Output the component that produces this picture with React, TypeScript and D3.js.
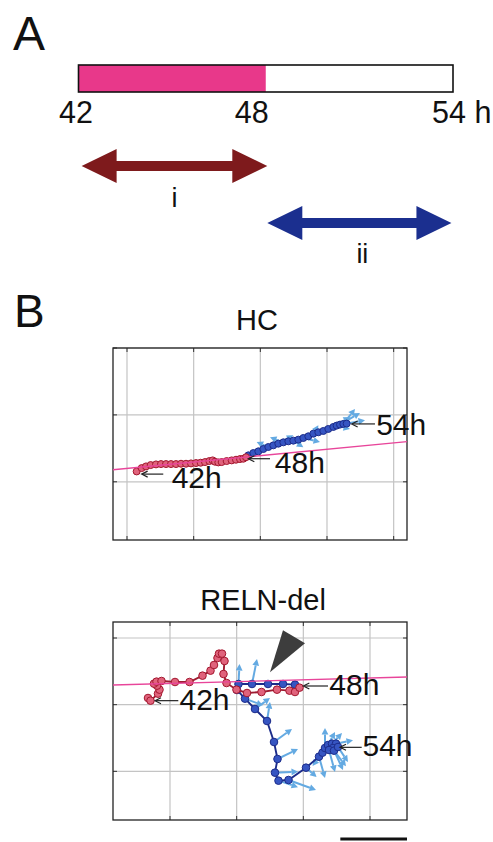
import React from "react";
import * as d3 from "d3";

// ---------- Panel A data ----------
const timeTicks = [42, 48, 54];
const timeTickLabels = ["42", "48", "54 h"];
const timeLabelOffsets = [-19.5, -31, -21];
const highlightEnd = 48;
const phaseI = [42.1, 48.05];
const phaseII = [48.05, 53.95];
const phaseLabels = ["i", "ii"];

// ---------- Panel B: HC ----------
const hcRedX = [2.9, 4.4, 5.7, 7.1, 8.7, 10.2, 11.7, 13.2, 14.7, 16.2, 17.7, 19.2, 20.7, 22.1, 23.4, 24.7, 25.7, 26.4, 27.4, 28.4, 29.9, 31.4, 32.7, 33.9, 34.9, 35.7];
const hcRedY = [3.1, 4.1, 4.6, 5.0, 5.2, 5.3, 5.3, 5.3, 5.3, 5.4, 5.4, 5.5, 5.6, 5.7, 5.9, 6.2, 6.4, 6.0, 5.8, 5.9, 6.2, 6.4, 6.6, 6.8, 6.9, 7.35];
const hcBlueX = [36.4, 37.9, 39.4, 40.9, 42.4, 43.9, 45.4, 46.9, 48.4, 49.9, 51.4, 52.9, 54.4, 55.9, 57.4, 58.9, 60.4, 61.9, 62.9, 63.9, 64.9, 65.9];
const hcBlueY = [7.9, 8.6, 9.1, 9.8, 10.4, 10.9, 11.4, 11.8, 12.1, 12.3, 12.6, 13.1, 13.6, 14.4, 14.8, 15.2, 15.8, 16.4, 16.8, 17.1, 17.3, 17.4];
const hcArrowIdx = [4, 6, 7, 9, 11, 13, 14, 17, 18, 19, 20, 21];
const hcArrowU = [-3.5, 4.5, -4, 3, 5, 1.5, 4, 5, 4, 6, 3.5, 5.5];
const hcArrowV = [1.5, 2.5, 1.5, -2, -1.2, 2.5, 1.5, 3, -1, 3.5, 4.5, 1];
const hcFitX = [-4.2, 84];
const hcFitY = [3.6, 12];
const hcLabels = ["42h", "48h", "54h"];
const hcLabelTipX = [4.4, 36.4, 67.4];
const hcLabelTipY = [2.3, 6.9, 17.3];

// ---------- Panel B: RELN-del ----------
const rnRedX = [-6.6, -5.85, -3.6, -3.15, -3.9, -4.8, -4.05, -2.55, 1.5, 5.85, 9.75, 12.15, 13.2, 14.25, 14.7, 15.6, 16.35, 16.05, 16.95, 19.95, 23.1, 27.45, 32.1, 35.85, 37.5, 38.85];
const rnRedY = [22.0, 21.2, 23.3, 24.5, 25.7, 26.3, 26.9, 27.1, 26.8, 26.8, 28.7, 30.2, 31.9, 34.0, 35.3, 35.3, 33.1, 29.2, 26.5, 24.5, 23.5, 23.8, 24.5, 24.2, 23.8, 25.1];
const rnBlueX = [37.5, 33.9, 29.4, 24.6, 20.55, 20.1, 22.5, 25.5, 29.1, 31.2, 32.25, 31.5, 32.55, 35.55, 40.8, 44.7, 45.75, 46.5, 47.4, 48.6, 49.8, 48.9, 47.7, 49.2, 50.4];
const rnBlueY = [26.0, 26.2, 26.2, 26.2, 26.2, 24.4, 21.8, 18.7, 15.1, 8.8, 3.7, -0.4, -2.8, -2.6, 1.1, 4.4, 5.6, 7.0, 7.9, 8.3, 8.3, 7.0, 6.4, 6.2, 7.3];
const rnArrowIdx = [4, 3, 6, 7, 8, 9, 10, 11, 12, 13, 14, 15, 16, 17, 18, 19, 20, 21, 22, 23, 24];
const rnArrowU = [0.3, 1.5, 5.4, 4.5, 0.9, 5.4, 6.15, 6.9, 5.85, 8.25, 3.2, 1.8, -3, 0, 2.1, 3, 5.1, 3, 1.8, 3.6, 3];
const rnArrowV = [6, 7.5, -2, 3.3, 5.7, 3.9, 3, 0.3, -1.95, -3, -2.8, -6.4, -4, 6, 3.9, 3.2, 1.05, -6.6, -6.6, -4.65, -4.5];
const rnFitX = [-17.1, 71.1];
const rnFitY = [25.9, 28.3];
const rnLabels = ["42h", "48h", "54h"];
const rnLabelTipX = [-4.5, 40, 51];
const rnLabelTipY = [21.2, 25.6, 7.2];
const rnMarkerX = [33.9, 40.5, 30];
const rnMarkerY = [42.3, 38.4, 29.7];
const scaleBarLength = 20;

// ---------- styles ----------
const FONT = "'Liberation Sans', Arial, Helvetica, sans-serif";
const C = {
  pinkBar: "#e8388a",
  darkRed: "#7e1a1c",
  navy: "#1b2f8f",
  redFill: "#e0637c",
  redStroke: "#a3182f",
  redLine: "#9e1c31",
  blueFill: "#3655c2",
  blueStroke: "#1c2c8a",
  blueLine: "#1c2c8a",
  lightBlue: "#64aae2",
  fit: "#e8459a",
  grid: "#c4c4c4",
};

function DoubleArrow({ x0, x1, y, color, head = 35, half = 17, shaft = 10 }) {
  const s = shaft / 2;
  const d = `M${x0},${y} L${x0 + head},${y - half} L${x0 + head},${y - s} L${x1 - head},${y - s} L${x1 - head},${y - half} L${x1},${y} L${x1 - head},${y + half} L${x1 - head},${y + s} L${x0 + head},${y + s} L${x0 + head},${y + half} Z`;
  return <path d={d} fill={color} />;
}

function VecArrow({ x0, y0, x1, y1, color }) {
  const dx = x1 - x0, dy = y1 - y0;
  const L = Math.hypot(dx, dy) || 1;
  const ux = dx / L, uy = dy / L;
  const hl = 6.5, hw = 3.4;
  const bx = x1 - ux * hl, by = y1 - uy * hl;
  return (
    <g>
      <line x1={x0} y1={y0} x2={bx} y2={by} stroke={color} strokeWidth={2} />
      <path d={`M${x1},${y1} L${bx - uy * hw},${by + ux * hw} L${bx + uy * hw},${by - ux * hw} Z`} fill={color} />
    </g>
  );
}

function Track({ cfg }) {
  const { x, y, gridX, gridY, redX, redY, blueX, blueY, arrowIdx, arrowU, arrowV, fitX, fitY, labels, tipX, tipY, labelLayout, r } = cfg;
  const [xl, xr] = x.range();
  const [yb, yt] = y.range();
  const line = d3.line<number>().x((i) => x(i[0])).y((i) => y(i[1]));
  const redPts = redX.map((v, i) => [v, redY[i]]);
  const bluePts = [redPts[redPts.length - 1], ...blueX.map((v, i) => [v, blueY[i]])];
  const tick = 4;
  return (
    <g>
      <rect x={xl} y={yt} width={xr - xl} height={yb - yt} fill="#fff" />
      {gridX.map((g) => (
        <line key={"gx" + g} x1={x(g)} x2={x(g)} y1={yt} y2={yb} stroke={C.grid} strokeWidth={1.2} />
      ))}
      {gridY.map((g) => (
        <line key={"gy" + g} x1={xl} x2={xr} y1={y(g)} y2={y(g)} stroke={C.grid} strokeWidth={1.2} />
      ))}
      {gridX.map((g) => (
        <g key={"tx" + g}>
          <line x1={x(g)} x2={x(g)} y1={yt} y2={yt + tick} stroke="#333" />
          <line x1={x(g)} x2={x(g)} y1={yb} y2={yb - tick} stroke="#333" />
        </g>
      ))}
      {gridY.map((g) => (
        <g key={"ty" + g}>
          <line x1={xl} x2={xl + tick} y1={y(g)} y2={y(g)} stroke="#333" />
          <line x1={xr} x2={xr - tick} y1={y(g)} y2={y(g)} stroke="#333" />
        </g>
      ))}
      <rect x={xl} y={yt} width={xr - xl} height={yb - yt} fill="none" stroke="#222" strokeWidth={1.3} />
      {arrowIdx.map((k, i) => (
        <VecArrow key={"a" + i} x0={x(blueX[k])} y0={y(blueY[k])} x1={x(blueX[k] + arrowU[i])} y1={y(blueY[k] + arrowV[i])} color={C.lightBlue} />
      ))}
      <path d={line(bluePts) || ""} fill="none" stroke={C.blueLine} strokeWidth={1.9} />
      {bluePts.slice(1).map((p, i) => (
        <circle key={"b" + i} cx={x(p[0])} cy={y(p[1])} r={r} fill={C.blueFill} stroke={C.blueStroke} strokeWidth={1} />
      ))}
      <path d={line(redPts) || ""} fill="none" stroke={C.redLine} strokeWidth={1.9} />
      {redPts.map((p, i) => (
        <circle key={"r" + i} cx={x(p[0])} cy={y(p[1])} r={r} fill={C.redFill} stroke={C.redStroke} strokeWidth={1} />
      ))}
      <line x1={x(fitX[0])} y1={y(fitY[0])} x2={x(fitX[1])} y2={y(fitY[1])} stroke={C.fit} strokeWidth={1.4} />
      {labels.map((t, i) => {
        const tx = x(tipX[i]);
        const ty = y(tipY[i]);
        const lay = labelLayout[i];
        return (
          <g key={"l" + i}>
            <line x1={tx + 1} y1={ty} x2={tx + lay.tail} y2={ty} stroke="#222" strokeWidth={1.2} />
            <path d={`M${tx + 6},${ty - 3} L${tx},${ty} L${tx + 6},${ty + 3}`} fill="none" stroke="#222" strokeWidth={1.2} />
            <text x={tx + lay.dx} y={ty + lay.dy} fontSize={30} fontFamily={FONT} fill="#111">{t}</text>
          </g>
        );
      })}
    </g>
  );
}

export default function App() {
  const t = d3.scaleLinear().domain([42, 54]).range([78.5, 453]);
  const barTop = 65, barH = 27;

  const hcX = d3.scaleLinear().domain([-4.2, 84]).range([113, 407]);
  const hcY = d3.scaleLinear().domain([-17.4, 40]).range([540, 348]);
  const rnX = d3.scaleLinear().domain([-17.1, 71.1]).range([113, 407]);
  const rnY = d3.scaleLinear().domain([-14.6, 44.8]).range([820, 622]);

  const hcCfg = {
    x: hcX, y: hcY, gridX: [0, 20, 40, 60, 80], gridY: [0, 20, 40], r: 3.5,
    redX: hcRedX, redY: hcRedY, blueX: hcBlueX, blueY: hcBlueY,
    arrowIdx: hcArrowIdx, arrowU: hcArrowU, arrowV: hcArrowV,
    fitX: hcFitX, fitY: hcFitY, labels: hcLabels, tipX: hcLabelTipX, tipY: hcLabelTipY,
    labelLayout: [
      { tail: 21.6, dx: 30, dy: 14 },
      { tail: 21.7, dx: 26.5, dy: 14 },
      { tail: 23.3, dx: 24.5, dy: 11 },
    ],
  };
  const rnCfg = {
    x: rnX, y: rnY, gridX: [0, 20, 40, 60], gridY: [0, 20, 40], r: 3.8,
    redX: rnRedX, redY: rnRedY, blueX: rnBlueX, blueY: rnBlueY,
    arrowIdx: rnArrowIdx, arrowU: rnArrowU, arrowV: rnArrowV,
    fitX: rnFitX, fitY: rnFitY, labels: rnLabels, tipX: rnLabelTipX, tipY: rnLabelTipY,
    labelLayout: [
      { tail: 23.3, dx: 24.5, dy: 9.5 },
      { tail: 24.7, dx: 26, dy: 8.5 },
      { tail: 21.7, dx: 22.5, dy: 9 },
    ],
  };

  const markerPts = rnMarkerX.map((v, i) => `${rnX(v)},${rnY(rnMarkerY[i])}`).join(" ");
  const sbRight = rnX(rnX.domain()[1]);

  return (
    <svg width={493} height={842} style={{ position: "absolute", left: 0, top: 0, display: "block", background: "#fff" }} fontFamily={FONT}>
      <rect width={493} height={842} fill="#fff" />
      {/* Panel A */}
      <text x={13} y={50} fontSize={48} fill="#111">A</text>
      <rect x={t(42)} y={barTop} width={t(highlightEnd) - t(42)} height={barH} fill={C.pinkBar} />
      <rect x={t(42)} y={barTop} width={t(54) - t(42)} height={barH} fill="none" stroke="#111" strokeWidth={1.6} />
      {timeTicks.map((v, i) => (
        <text key={v} x={t(v) + timeLabelOffsets[i]} y={123} fontSize={30.5} fill="#111">{timeTickLabels[i]}</text>
      ))}
      <DoubleArrow x0={t(phaseI[0])} x1={t(phaseI[1])} y={166} color={C.darkRed} />
      <text x={(t(phaseI[0]) + t(phaseI[1])) / 2} y={207} fontSize={27} textAnchor="middle" fill="#111">{phaseLabels[0]}</text>
      <DoubleArrow x0={t(phaseII[0])} x1={t(phaseII[1])} y={223} color={C.navy} />
      <text x={(t(phaseII[0]) + t(phaseII[1])) / 2 + 3} y={263} fontSize={27} textAnchor="middle" fill="#111">{phaseLabels[1]}</text>

      {/* Panel B */}
      <text x={14} y={327} fontSize={46} fill="#111">B</text>
      <text x={257} y={330} fontSize={29} textAnchor="middle" fill="#111">HC</text>
      <Track cfg={hcCfg} />
      <text x={263} y={610} fontSize={29} textAnchor="middle" fill="#111">RELN-del</text>
      <Track cfg={rnCfg} />
      <polygon points={markerPts} fill="#3d3d3d" />
      <line x1={rnX(rnX.domain()[1] - scaleBarLength)} x2={sbRight} y1={839} y2={839} stroke="#111" strokeWidth={3} />
    </svg>
  );
}
